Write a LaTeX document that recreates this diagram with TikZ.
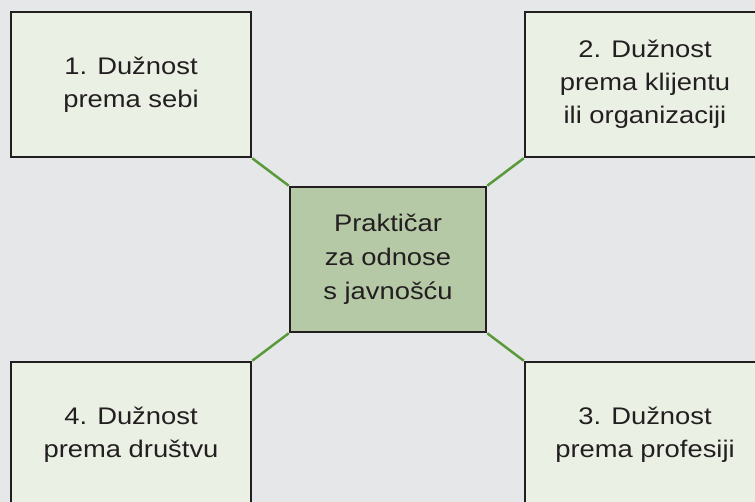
\documentclass[tikz,border=0pt]{standalone}
\usepackage{fontspec}
\setmainfont[FakeStretch=1.14]{Liberation Sans}
\definecolor{bg}{HTML}{E6E7E8}
\definecolor{lightbox}{HTML}{EAF0E4}
\definecolor{midbox}{HTML}{B6C9A6}
\definecolor{edge}{HTML}{231F20}
\definecolor{link}{HTML}{5A9A3C}
\tikzset{
  dutybox/.style={draw=edge, line width=2.5pt, fill=lightbox, minimum width=240pt, minimum height=145pt, inner sep=0pt, align=center, text=edge, font=\fontsize{24}{33}\selectfont},
  corebox/.style={draw=edge, line width=2.5pt, fill=midbox, minimum width=196pt, minimum height=145pt, inner sep=0pt, align=center, text=edge, font=\fontsize{24}{34}\selectfont},
  linkline/.style={draw=link, line width=2.5pt}
}
\begin{document}
\begin{tikzpicture}[x=1pt,y=-1pt]
\fill[bg] (0,0) rectangle (755,502);
\useasboundingbox (0,0) rectangle (755,502);
\clip (0,0) rectangle (755,502);
\node[corebox] (c) at (388,259.5) {Praktičar\\za odnose\\s javnošću};
\node[dutybox] (b1) at (131,84.5) {1. Dužnost\\prema sebi};
\node[dutybox] (b2) at (645,84.5) {2. Dužnost\\prema klijentu\\ili organizaciji};
\node[dutybox] (b3) at (645,434.5) {3. Dužnost\\prema profesiji};
\node[dutybox] (b4) at (131,434.5) {4. Dužnost\\prema društvu};
\draw[linkline] (b1.south east) -- (c.north west);
\draw[linkline] (b2.south west) -- (c.north east);
\draw[linkline] (b3.north west) -- (c.south east);
\draw[linkline] (b4.north east) -- (c.south west);
\end{tikzpicture}
\end{document}
